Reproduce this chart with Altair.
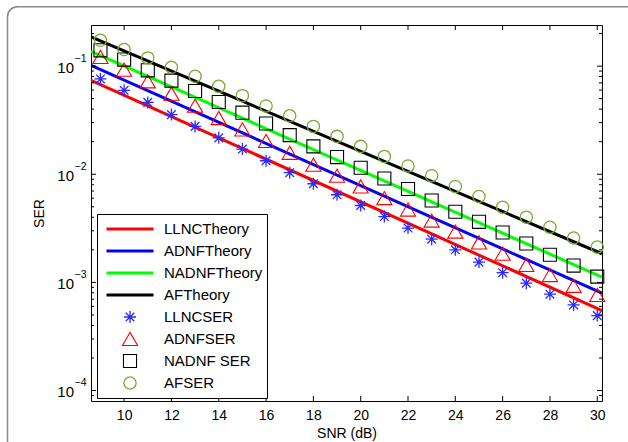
import altair as alt
import pandas as pd

# ---------------- data ----------------
snr = [9, 10, 11, 12, 13, 14, 15, 16, 17, 18, 19, 20, 21, 22, 23, 24, 25, 26, 27, 28, 29, 30]
llnc_ser = [0.0761, 0.0597, 0.0462, 0.0356, 0.0277, 0.0217, 0.0171, 0.01333, 0.01033, 0.00817, 0.00646,
            0.00514, 0.00406, 0.00318, 0.00251, 0.00200, 0.00154, 0.00123, 0.000984, 0.000778, 0.000619, 0.000493]
adnf_ser = [0.1216, 0.0928, 0.0723, 0.0556, 0.0430, 0.0331, 0.0260, 0.0203, 0.0158, 0.01225, 0.00969,
            0.00771, 0.00602, 0.00472, 0.00373, 0.00295, 0.00234, 0.00184, 0.00145, 0.00117, 0.000929, 0.000766]
nadnf_ser = [0.1400, 0.1149, 0.0914, 0.0734, 0.0589, 0.0466, 0.0371, 0.0295, 0.0230, 0.0181, 0.01442,
             0.01148, 0.00914, 0.00730, 0.00572, 0.00450, 0.00363, 0.00289, 0.00229, 0.00180, 0.00143, 0.00113]
af_ser = [0.1734, 0.1423, 0.1191, 0.0975, 0.0805, 0.0650, 0.0533, 0.0428, 0.0347, 0.0277, 0.0224,
          0.0181, 0.01462, 0.01194, 0.00969, 0.00771, 0.00623, 0.00496, 0.00401, 0.00324, 0.00257, 0.00212]

snr_theory = [8.6, 30.2]
llnc_theory = [0.0740, 0.000548]
adnf_theory = [0.1017, 0.000794]
nadnf_theory = [0.137, 0.00112]
af_theory = [0.186, 0.00184]

series_names = ["LLNCTheory", "ADNFTheory", "NADNFTheory", "AFTheory",
                "LLNCSER", "ADNFSER", "NADNF SER", "AFSER"]
series_colors = ["#ff0000", "#0000ff", "#00ff00", "#000000",
                 "#2b2bff", "#ff0000", "#000000", "#77ac30"]
STAR = "M-1,0L1,0M0,-1L0,1M-0.72,-0.72L0.72,0.72M-0.72,0.72L0.72,-0.72"
series_shapes = ["stroke", "stroke", "stroke", "stroke", STAR, "triangle-up", "square", "circle"]
series_sizes = [2209, 2209, 2209, 2209, 144, 230, 170, 150]
series_widths = [3, 3, 3, 3, 1.3, 1.1, 1.1, 1.3]

x_ticks = [10, 12, 14, 16, 18, 20, 22, 24, 26, 28, 30]
y_major = [1e-1, 1e-2, 1e-3, 1e-4]
y_major_exp = ["\u22121", "\u22122", "\u22123", "\u22124"]
y_minor = [9e-5,
           2e-4, 3e-4, 4e-4, 5e-4, 6e-4, 7e-4, 8e-4, 9e-4,
           2e-3, 3e-3, 4e-3, 5e-3, 6e-3, 7e-3, 8e-3, 9e-3,
           2e-2, 3e-2, 4e-2, 5e-2, 6e-2, 7e-2, 8e-2, 9e-2,
           2e-1]

# ---------------- tables ----------------
line_df = pd.concat([
    pd.DataFrame({"snr": snr_theory, "ser": vals, "series": name})
    for name, vals in zip(series_names[:4], [llnc_theory, adnf_theory, nadnf_theory, af_theory])
])
pt_df = pd.concat([
    pd.DataFrame({"snr": snr, "ser": vals, "series": name})
    for name, vals in zip(series_names[4:], [llnc_ser, adnf_ser, nadnf_ser, af_ser])
])
xt_df = pd.DataFrame({"snr": x_ticks})
ymaj_df = pd.DataFrame({"ser": y_major, "exp": y_major_exp})
ymin_df = pd.DataFrame({"ser": y_minor})

W, H = 511, 376
FONT = "Liberation Sans"

x_scale = alt.Scale(domain=[8.6, 30.2], nice=False, zero=False)
y_scale = alt.Scale(type="log", domain=[8e-5, 0.24], nice=False)

x_axis = alt.Axis(values=x_ticks, ticks=False, tickSize=0, domain=False, grid=False,
                  labelFontSize=14, labelPadding=7, labelColor="black", labelFont=FONT,
                  title="SNR (dB)", titleFontSize=14, titleFontWeight="normal", titleColor="black",
                  titleFont=FONT, titlePadding=4)
y_axis = alt.Axis(labels=False, ticks=False, domain=False, grid=False,
                  title="SER", titleFontSize=14, titleFontWeight="normal", titleColor="black",
                  titleFont=FONT, titleAngle=270, titleX=-52, titleY=H / 2,
                  titleAlign="center", titleBaseline="middle")

legend = alt.Legend(title=None, orient="none", legendX=6, legendY=189, padding=4,
                    clipHeight=22, rowPadding=0, labelFontSize=15, labelFont=FONT,
                    labelColor="black", labelOffset=9, symbolOffset=4,
                    strokeColor="black", fillColor="white", cornerRadius=0)

color_enc = alt.Color("series:N", scale=alt.Scale(domain=series_names, range=series_colors),
                      legend=legend)


def X(field):
    return alt.X(field, scale=x_scale, axis=x_axis)


def Y(field):
    return alt.Y(field, scale=y_scale, axis=y_axis)


# ---------------- layers ----------------
border = alt.Chart(pd.DataFrame({"a": [0]})).mark_rect(
    fillOpacity=0, stroke="#8a8a8a", strokeWidth=1.5, cornerRadius=10, clip=False
).encode(x=alt.value(-83.5), x2=alt.value(640), y=alt.value(-18.3), y2=alt.value(480))

lines = alt.Chart(line_df).mark_line(strokeWidth=3, clip=True).encode(
    x=X("snr:Q"), y=Y("ser:Q"), color=color_enc, detail="series:N",
)

points = alt.Chart(pt_df).mark_point(filled=False, opacity=1).encode(
    x=X("snr:Q"), y=Y("ser:Q"),
    color=color_enc,
    shape=alt.Shape("series:N", scale=alt.Scale(domain=series_names, range=series_shapes), legend=legend),
    size=alt.Size("series:N", scale=alt.Scale(type="ordinal", domain=series_names, range=series_sizes),
                  legend=legend),
    strokeWidth=alt.StrokeWidth("series:N",
                                scale=alt.Scale(type="ordinal", domain=series_names, range=series_widths),
                                legend=legend),
)

xt_bottom = alt.Chart(xt_df).mark_rule(color="black", strokeWidth=1).encode(
    x=X("snr:Q"), y=alt.value(H), y2=alt.value(H - 5))
xt_top = alt.Chart(xt_df).mark_rule(color="black", strokeWidth=1).encode(
    x=X("snr:Q"), y=alt.value(0), y2=alt.value(5))
ymaj_left = alt.Chart(ymaj_df).mark_rule(color="black", strokeWidth=1).encode(
    y=Y("ser:Q"), x=alt.value(0), x2=alt.value(5))
ymaj_right = alt.Chart(ymaj_df).mark_rule(color="black", strokeWidth=1).encode(
    y=Y("ser:Q"), x=alt.value(W), x2=alt.value(W - 5))
ymin_left = alt.Chart(ymin_df).mark_rule(color="black", strokeWidth=1).encode(
    y=Y("ser:Q"), x=alt.value(0), x2=alt.value(3))
ymin_right = alt.Chart(ymin_df).mark_rule(color="black", strokeWidth=1).encode(
    y=Y("ser:Q"), x=alt.value(W), x2=alt.value(W - 3))

ylab_base = alt.Chart(ymaj_df).mark_text(align="right", baseline="middle", fontSize=15,
                                         font=FONT, color="black", dy=1.5).encode(
    y=Y("ser:Q"), x=alt.value(-17), text=alt.value("10"))
ylab_exp = alt.Chart(ymaj_df).mark_text(align="left", baseline="middle", fontSize=10.5,
                                        font=FONT, color="black", dy=-7.5).encode(
    y=Y("ser:Q"), x=alt.value(-16.5), text="exp:N")

chart = alt.layer(
    border, lines, points, xt_bottom, xt_top, ymaj_left, ymaj_right, ymin_left, ymin_right,
    ylab_base, ylab_exp
).properties(
    width=W, height=H,
    padding={"left": 91, "top": 25, "right": 26, "bottom": 41},
    autosize=alt.AutoSizeParams(type="none"),
    background="white",
).configure(font=FONT).configure_view(stroke="black", strokeWidth=1)

chart.save("out.html", embed_options={"renderer": "svg", "actions": False})
